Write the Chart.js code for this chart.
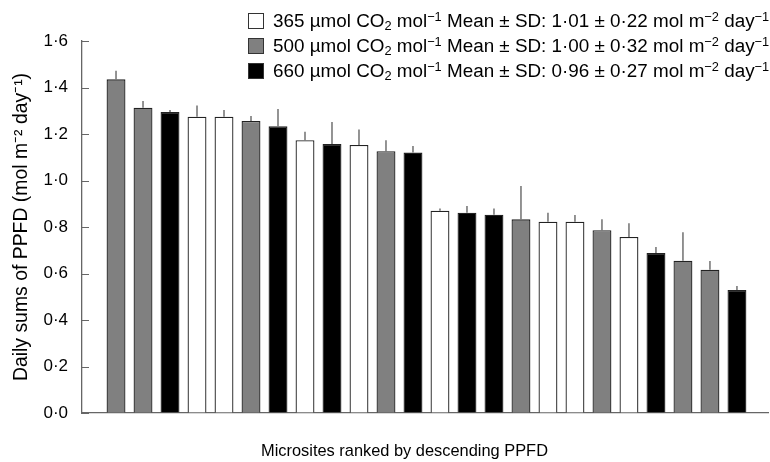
<!DOCTYPE html>
<html>
<head>
<meta charset="utf-8">
<script src="https://cdn.jsdelivr.net/npm/chart.js@4.4.1/dist/chart.umd.min.js"></script>
<style>
  body { margin: 0; background: #fff; }
  #wrap { position: relative; width: 770px; height: 462px; overflow: hidden; font-family: "Liberation Sans", Arial, sans-serif; }
  #legend { position: absolute; left: 248px; top: 8px; }
  .row { display: flex; align-items: center; height: 25px; font-size: 18.85px; color: #000; white-space: nowrap; }
  .box { width: 14px; height: 14px; border: 1px solid #333; margin-right: 9px; flex: none; }
  sup, sub { font-size: 0.68em; line-height: 0; }
  sup { vertical-align: 0.5em; }
  sub { vertical-align: -0.25em; }
  #xtitle { position: absolute; left: 261px; top: 441px; font-size: 16.4px; color: #000; white-space: nowrap; }
</style>
</head>
<body>
<div id="wrap">
  <canvas id="ppfdChart" width="770" height="462"></canvas>
  <div id="legend"></div>
  <div id="xtitle">Microsites ranked by descending PPFD</div>
</div>
<script>
// treatments (umol CO2 mol-1) and their summary stats
const co2Levels = [365, 500, 660];
const co2Colors = ["#ffffff", "#808080", "#000000"];
const levelMeans = [1.01, 1.00, 0.96];
const levelSDs = [0.22, 0.32, 0.27];

// microsites ranked by descending PPFD
const siteRanks = [1, 2, 3, 4, 5, 6, 7, 8, 9, 10, 11, 12, 13, 14, 15, 16, 17, 18, 19, 20, 21, 22, 23, 24];
const siteLevel = [500, 500, 660, 365, 365, 500, 660, 365, 660, 365, 500, 660,
                   365, 660, 660, 500, 365, 365, 500, 365, 660, 500, 500, 660];
const siteMeans = [1.435, 1.313, 1.295, 1.274, 1.274, 1.256, 1.233, 1.173, 1.157, 1.153, 1.126, 1.12,
                   0.870, 0.861, 0.853, 0.833, 0.823, 0.823, 0.786, 0.757, 0.688, 0.655, 0.616, 0.529];
const siteSDs = [0.037, 0.029, 0.008, 0.049, 0.029, 0.021, 0.074, 0.037, 0.095, 0.066, 0.047, 0.028,
                 0.010, 0.029, 0.027, 0.143, 0.038, 0.029, 0.047, 0.059, 0.026, 0.122, 0.038, 0.017];
const yTicks = [0, 0.2, 0.4, 0.6, 0.8, 1.0, 1.2, 1.4, 1.6];

function dotNum(v, d) {
  return v.toFixed(d).replace(".", "\u00b7");
}

// html legend
const legendEl = document.getElementById("legend");
co2Levels.forEach((lvl, i) => {
  const row = document.createElement("div");
  row.className = "row";
  row.innerHTML =
    `<span class="box" style="background:${co2Colors[i]}"></span><span>` +
    `${lvl} \u00b5mol CO<sub>2</sub> mol<sup>\u22121</sup> Mean \u00b1 SD: ` +
    `${dotNum(levelMeans[i], 2)} \u00b1 ${dotNum(levelSDs[i], 2)} mol m<sup>\u22122</sup> day<sup>\u22121</sup></span>`;
  legendEl.appendChild(row);
});

const datasets = co2Levels.map((lvl, i) => {
  const pts = [];
  siteRanks.forEach((r, k) => {
    if (siteLevel[k] === lvl) pts.push({ x: r, y: siteMeans[k], sd: siteSDs[k] });
  });
  return {
    label: lvl + " \u00b5mol CO2 mol-1",
    data: pts,
    backgroundColor: co2Colors[i],
    borderColor: "#222",
    borderWidth: 1.3,
    borderSkipped: "start",
  };
});

const errorBars = {
  id: "errorBars",
  afterDatasetsDraw(chart) {
    const ctx = chart.ctx;
    const yScale = chart.scales.y;
    ctx.save();
    ctx.strokeStyle = "#666";
    ctx.lineWidth = 1.4;
    chart.data.datasets.forEach((ds, di) => {
      const meta = chart.getDatasetMeta(di);
      meta.data.forEach((bar, j) => {
        const p = ds.data[j];
        const top = yScale.getPixelForValue(p.y + p.sd);
        ctx.beginPath();
        ctx.moveTo(bar.x, bar.y);
        ctx.lineTo(bar.x, top);
        ctx.stroke();
      });
    });
    ctx.restore();
  },
};

const inwardTicks = {
  id: "inwardTicks",
  afterDraw(chart) {
    const ctx = chart.ctx;
    const yScale = chart.scales.y;
    const left = chart.chartArea.left;
    ctx.save();
    ctx.strokeStyle = "#666";
    ctx.lineWidth = 1;
    yTicks.forEach((v) => {
      const y = Math.round(yScale.getPixelForValue(v)) + 0.5;
      ctx.beginPath();
      ctx.moveTo(left, y);
      ctx.lineTo(left + 7, y);
      ctx.stroke();
    });
    ctx.restore();
  },
};

new Chart(document.getElementById("ppfdChart").getContext("2d"), {
  type: "bar",
  data: { datasets: datasets },
  options: {
    responsive: false,
    animation: false,
    layout: { padding: { top: 41, right: 2, bottom: 49, left: 5 } },
    datasets: { bar: { grouped: false, barPercentage: 0.7, categoryPercentage: 1 } },
    plugins: {
      legend: { display: false },
      tooltip: { enabled: false },
    },
    scales: {
      x: {
        type: "linear",
        offset: false,
        min: -0.26,
        max: 25.15,
        ticks: { display: false },
        grid: { display: true, drawOnChartArea: false, drawTicks: false },
        border: { display: true, color: "#666", width: 1.3 },
      },
      y: {
        min: 0,
        max: 1.6,
        afterFit: (scale) => { scale.width = 77; },
        afterBuildTicks: (scale) => { scale.ticks = yTicks.map((v) => ({ value: v })); },
        ticks: {
          padding: 14,
          color: "#000",
          font: { family: "Liberation Sans", size: 17 },
          callback: (v) => dotNum(v, 1),
        },
        grid: { display: true, drawOnChartArea: false, drawTicks: false },
        border: { display: true, color: "#666", width: 1.3 },
        title: {
          display: true,
          text: "Daily sums of PPFD (mol m\u207b\u00b2 day\u207b\u00b9)",
          color: "#000",
          font: { family: "Liberation Sans", size: 19.4 },
          padding: { top: 5, bottom: 0 },
        },
      },
    },
  },
  plugins: [errorBars, inwardTicks],
});
</script>
</body>
</html>
